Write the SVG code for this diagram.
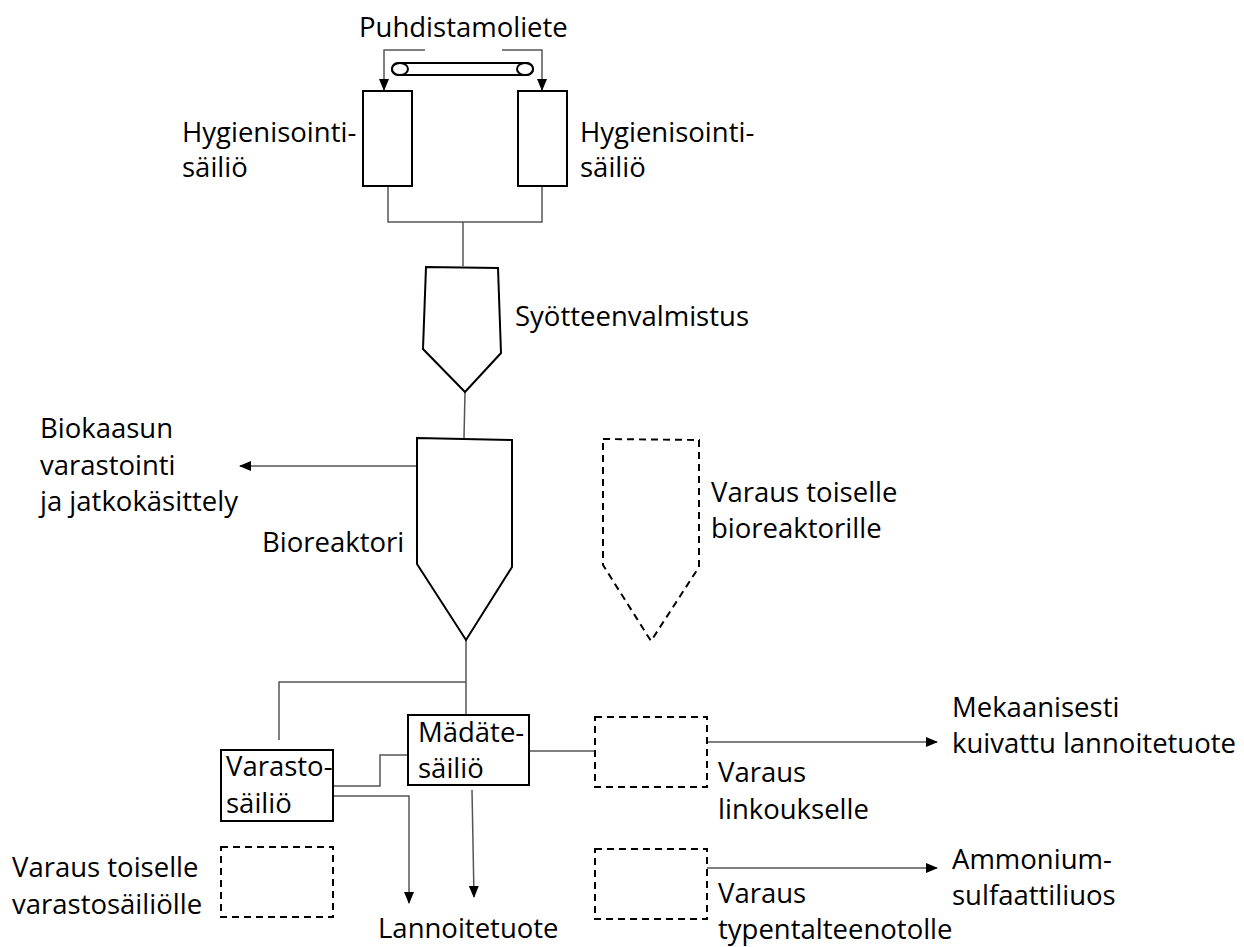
<svg xmlns="http://www.w3.org/2000/svg" width="1244" height="947" viewBox="0 0 1244 947">
<style>
.t{font-family:"Open Sans","Noto Sans","Liberation Sans",sans-serif;font-size:27.5px;fill:#000}
.s{fill:#fff;stroke:#000;stroke-width:2}
.d{fill:none;stroke:#000;stroke-width:2;stroke-dasharray:7,5}
.c{fill:none;stroke:#555;stroke-width:1.5}
.a{fill:none;stroke:#555;stroke-width:1.5;marker-end:url(#ah)}
</style>
<defs>
<marker id="ah" markerWidth="12" markerHeight="10" refX="11" refY="5" orient="auto" markerUnits="userSpaceOnUse">
<path d="M0,0 L12,5 L0,10 z" fill="#000"/>
</marker>
</defs>
<rect width="1244" height="947" fill="#fff"/>
<g id="connectors">
<polyline class="a" points="425,50 384,50 384,90"/>
<polyline class="a" points="502,50 542,50 542,90"/>
<polyline class="c" points="388,186 388,222 542,222 542,186"/>
<line class="c" x1="463" y1="222" x2="463" y2="266"/>
<line class="c" x1="465" y1="392" x2="464" y2="438"/>
<line class="a" x1="417" y1="466" x2="240" y2="466"/>
<line class="c" x1="466" y1="640" x2="466" y2="715"/>
<polyline class="c" points="466,682 279,682 279,740"/>
<polyline class="c" points="333,786 380,786 380,755 408,755"/>
<polyline class="a" points="333,796 409,796 409,903"/>
<line class="a" x1="472" y1="790" x2="474" y2="897"/>
<line class="c" x1="529" y1="751" x2="595" y2="751"/>
<line class="a" x1="707" y1="742" x2="937" y2="742"/>
<line class="a" x1="707" y1="868" x2="937" y2="868"/>
</g>
<g id="conveyor">
<rect x="392" y="63" width="141" height="12" rx="6" class="s"/>
<ellipse cx="400" cy="69" rx="8" ry="6" class="s"/>
<ellipse cx="525" cy="69" rx="8" ry="6" class="s"/>
<text class="t" x="359" y="37">Puhdistamoliete</text>
</g>
<g id="hyg1">
<rect x="363" y="91" width="49" height="95" class="s"/>
<text class="t" x="182" y="142">Hygienisointi-</text>
<text class="t" x="182" y="177">säiliö</text>
</g>
<g id="hyg2">
<rect x="518" y="91" width="49" height="95" class="s"/>
<text class="t" x="580" y="142">Hygienisointi-</text>
<text class="t" x="580" y="177">säiliö</text>
</g>
<g id="syote">
<polygon class="s" points="426,267 498,268 501,353 465,392 423,349"/>
<text class="t" x="515" y="326">Syötteenvalmistus</text>
</g>
<g id="bioreaktori">
<polygon class="s" points="417,438 512,440 512,567 466,640 417,564"/>
<text class="t" x="262" y="552">Bioreaktori</text>
</g>
<g id="biokaasu">
<text class="t" x="40" y="438">Biokaasun</text>
<text class="t" x="40" y="475">varastointi</text>
<text class="t" x="40" y="511">ja jatkokäsittely</text>
</g>
<g id="varaus-bio">
<polygon class="d" points="603,439 699,440 699,567 651,641 603,565"/>
<text class="t" x="711" y="502">Varaus toiselle</text>
<text class="t" x="711" y="538">bioreaktorille</text>
</g>
<g id="madate">
<rect x="408" y="715" width="121" height="70" class="s"/>
<text class="t" x="418" y="742">Mädäte-</text>
<text class="t" x="418" y="778">säiliö</text>
</g>
<g id="varasto">
<rect x="221" y="750" width="112" height="71" class="s"/>
<text class="t" x="226" y="776">Varasto-</text>
<text class="t" x="226" y="813">säiliö</text>
</g>
<g id="varaus-varasto">
<rect x="221" y="847" width="112" height="70" class="d"/>
<text class="t" x="12" y="877">Varaus toiselle</text>
<text class="t" x="12" y="914">varastosäiliölle</text>
</g>
<g id="linkous">
<rect x="595" y="717" width="112" height="70" class="d"/>
<text class="t" x="718" y="782">Varaus</text>
<text class="t" x="718" y="819">linkoukselle</text>
</g>
<g id="typpi">
<rect x="595" y="849" width="112" height="70" class="d"/>
<text class="t" x="718" y="903">Varaus</text>
<text class="t" x="718" y="939">typentalteenotolle</text>
</g>
<g id="mekaaninen">
<text class="t" x="952" y="717">Mekaanisesti</text>
<text class="t" x="952" y="753">kuivattu lannoitetuote</text>
</g>
<g id="ammonium">
<text class="t" x="952" y="869">Ammonium-</text>
<text class="t" x="952" y="905">sulfaattiliuos</text>
</g>
<g id="lannoite">
<text class="t" x="378" y="938">Lannoitetuote</text>
</g>
</svg>
